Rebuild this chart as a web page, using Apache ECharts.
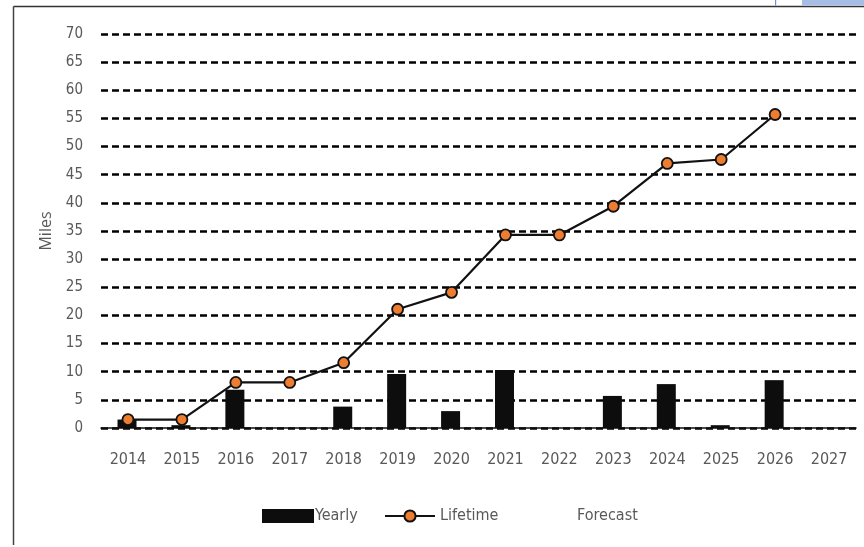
<!DOCTYPE html>
<html><head><meta charset="utf-8">
<script src="https://cdn.jsdelivr.net/npm/echarts@6/dist/echarts.min.js"></script>
<style>html,body{margin:0;padding:0;background:#fff}#c{width:864px;height:547px}</style>
</head><body><div id="c"></div>
<script>
const years = ['2014','2015','2016','2017','2018','2019','2020','2021','2022','2023','2024','2025','2026','2027'];
const yearly = [1.5, 0.5, 6.8, 0, 3.8, 9.6, 3.0, 10.3, 0, 5.7, 7.8, 0.5, 8.5, 0];
const lifetime = [1.5, 1.5, 8.1, 8.1, 11.6, 21.1, 24.1, 34.3, 34.3, 39.4, 47.0, 47.7, 55.7, null];
const forecast = [];
const yTicks = {min: 0, max: 70, interval: 5};

const font = '"DejaVu Sans Condensed", "Liberation Sans Narrow", "Noto Sans", sans-serif';
const legendText = {fontFamily: font, fontSize: 16, color: '#595959'};
const chart = echarts.init(document.getElementById('c'));
chart.setOption({
  animation: false,
  backgroundColor: '#fff',
  graphic: [
    {type: 'line', shape: {x1: 13.5, y1: 6.5, x2: 13.5, y2: 545}, style: {stroke: '#444', lineWidth: 1.5}},
    {type: 'line', shape: {x1: 13.5, y1: 6.5, x2: 864, y2: 6.5}, style: {stroke: '#333', lineWidth: 1.5}},
    {type: 'rect', shape: {x: 802, y: 0, width: 62, height: 5.5}, style: {fill: '#a6bde6'}},
    {type: 'rect', shape: {x: 775, y: 0, width: 1.2, height: 5.5}, style: {fill: '#6f8fd6'}}
  ],
  grid: {left: 101, right: 8, top: 34, bottom: 119},
  legend: [
    {left: 257, top: 503, itemWidth: 52, itemHeight: 14, itemGap: 0,
      textStyle: Object.assign({padding: [0,0,0,-4]}, legendText), data: [{name: 'Yearly', icon: 'rect'}]},
    {left: 379, top: 503, itemWidth: 50, itemHeight: 14, itemGap: 0,
      textStyle: Object.assign({padding: [0,0,0,0]}, legendText), data: [{name: 'Lifetime'}]},
    {left: 567, top: 503, itemWidth: 0, itemHeight: 14, itemGap: 0,
      textStyle: legendText, data: [{name: 'Forecast', icon: 'none'}]}
  ],
  xAxis: {
    type: 'category', data: years,
    axisLine: {lineStyle: {color: '#111', width: 1.5}},
    axisTick: {show: false},
    axisLabel: {fontFamily: font, fontSize: 16, color: '#595959', margin: 24}
  },
  yAxis: {
    type: 'value', min: yTicks.min, max: yTicks.max, interval: yTicks.interval,
    name: 'Miles', nameLocation: 'middle', nameGap: 42,
    nameTextStyle: {fontFamily: '"Open Sans", sans-serif', fontSize: 16, color: '#595959'},
    axisLine: {show: false}, axisTick: {show: false},
    axisLabel: {fontFamily: font, fontSize: 15, color: '#595959', margin: 18},
    splitLine: {lineStyle: {color: '#000', width: 2.5, type: [7, 4]}}
  },
  series: [
    {name: 'Yearly', type: 'bar', data: yearly, barWidth: 19,
      itemStyle: {color: '#0d0d0d'}},
    {name: 'Lifetime', type: 'line', data: lifetime, symbol: 'circle', symbolSize: 11,
      lineStyle: {color: '#111', width: 2.2}, itemStyle: {color: '#ed7d31', borderColor: '#111', borderWidth: 1.8}, z: 5},
    {name: 'Forecast', type: 'bar', data: forecast, itemStyle: {color: 'rgba(0,0,0,0)'}}
  ]
});
</script></body></html>
